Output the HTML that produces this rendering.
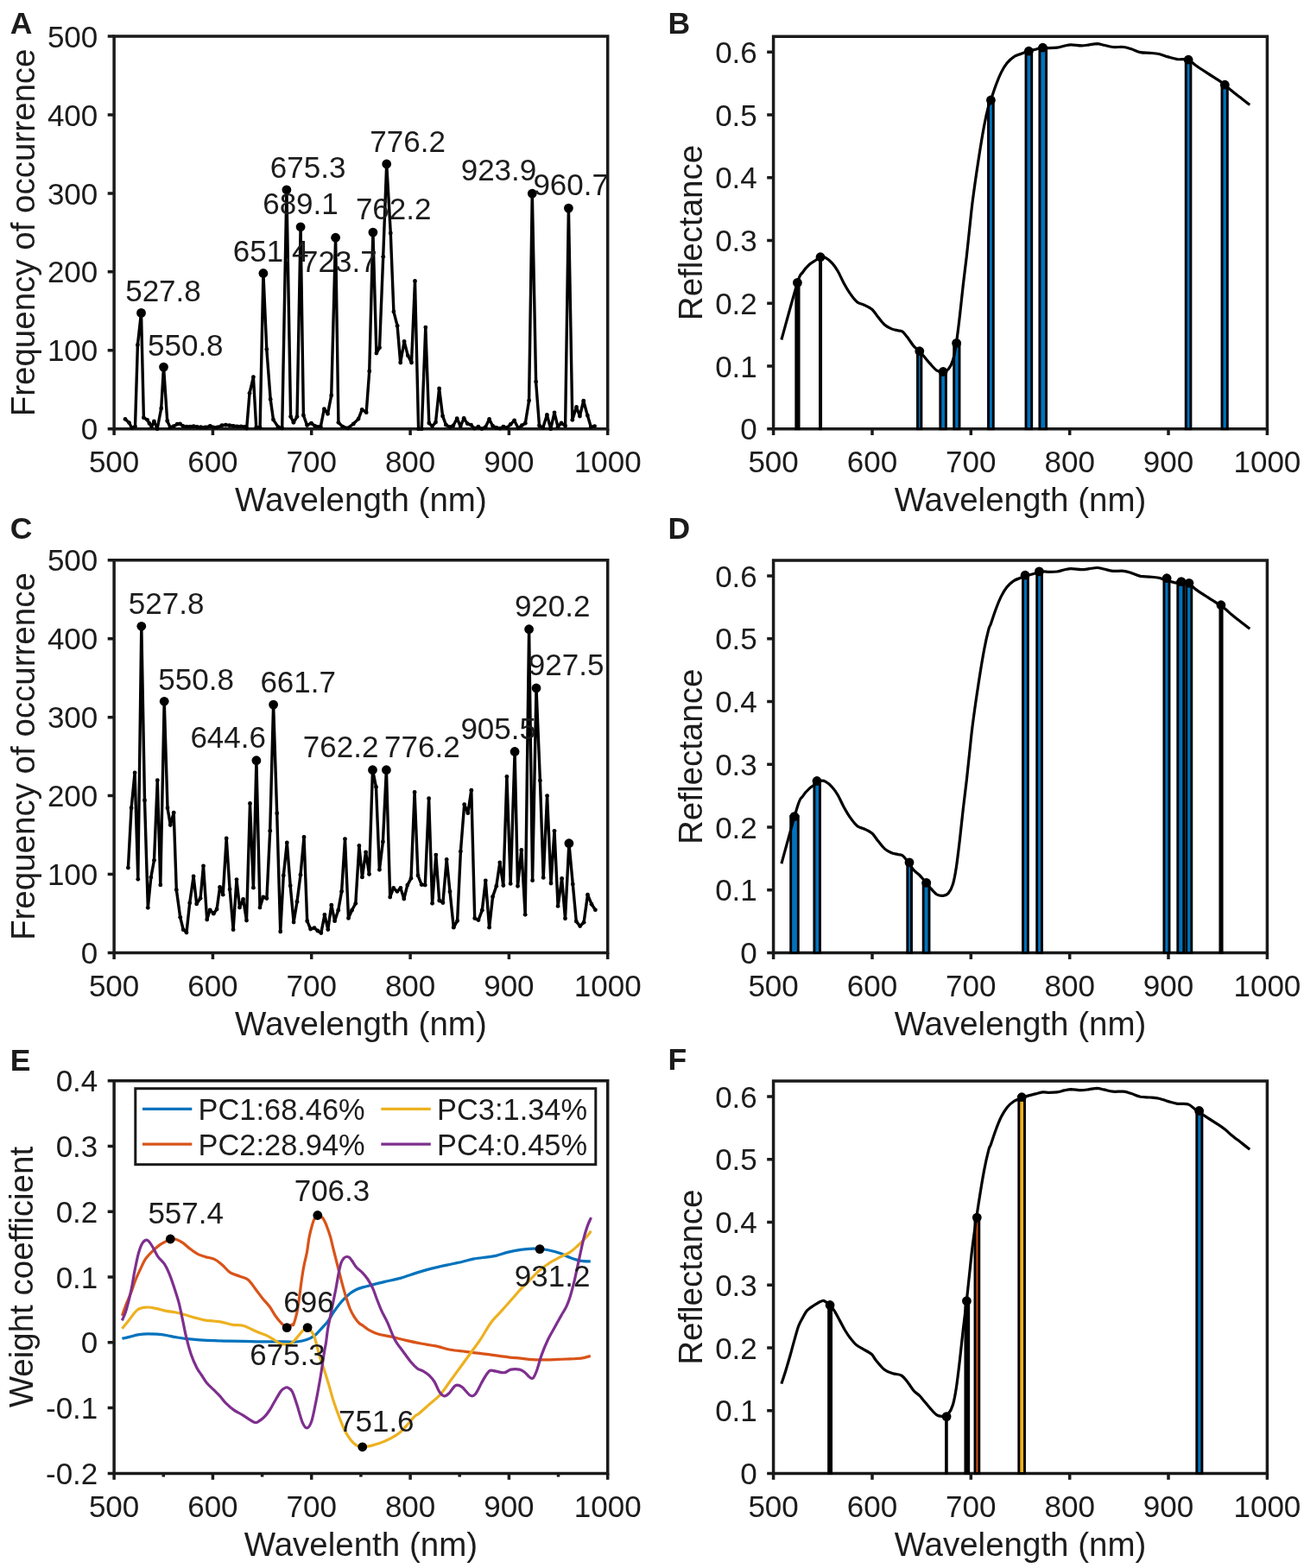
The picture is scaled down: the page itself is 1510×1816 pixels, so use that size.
<!DOCTYPE html>
<html><head><meta charset="utf-8"><title>Figure</title>
<style>
html,body{margin:0;padding:0;background:#fff;}
body{width:1510px;height:1816px;overflow:hidden;}
svg{display:block;}
text{font-family:"Liberation Sans",Arial,sans-serif;fill:#1c1c1c;}
</style></head>
<body>
<svg width="1510" height="1816" viewBox="0 0 1510 1816">
<rect width="1510" height="1816" fill="#fff"/>
<path d="M132.1 42H703.7V496.7H132.1Z" fill="none" stroke="#1a1a1a" stroke-width="3.5" stroke-linejoin="miter"/>
<path d="M132.1 496.7v7.4M246.4 496.7v7.4M360.7 496.7v7.4M475.1 496.7v7.4M589.4 496.7v7.4M703.7 496.7v7.4M132.1 496.7h-7.4M132.1 405.8h-7.4M132.1 314.8h-7.4M132.1 223.9h-7.4M132.1 132.9h-7.4M132.1 42h-7.4" stroke="#1a1a1a" stroke-width="3.5" fill="none"/>
<text x="132.1" y="547.3" text-anchor="middle" font-size="35">500</text>
<text x="246.4" y="547.3" text-anchor="middle" font-size="35">600</text>
<text x="360.7" y="547.3" text-anchor="middle" font-size="35">700</text>
<text x="475.1" y="547.3" text-anchor="middle" font-size="35">800</text>
<text x="589.4" y="547.3" text-anchor="middle" font-size="35">900</text>
<text x="703.7" y="547.3" text-anchor="middle" font-size="35">1000</text>
<text x="113.3" y="509.3" text-anchor="end" font-size="35">0</text>
<text x="113.3" y="418.4" text-anchor="end" font-size="35">100</text>
<text x="113.3" y="327.4" text-anchor="end" font-size="35">200</text>
<text x="113.3" y="236.5" text-anchor="end" font-size="35">300</text>
<text x="113.3" y="145.5" text-anchor="end" font-size="35">400</text>
<text x="113.3" y="54.6" text-anchor="end" font-size="35">500</text>
<text x="417.9" y="592.3" text-anchor="middle" font-size="38.5">Wavelength (nm)</text>
<text transform="translate(39.6 269.4) rotate(-90)" text-anchor="middle" font-size="38.5">Frequency of occurrence</text>
<path d="M895.6 42.3H1467.4V496.7H895.6Z" fill="none" stroke="#1a1a1a" stroke-width="3.5" stroke-linejoin="miter"/>
<path d="M895.6 496.7v7.4M1010 496.7v7.4M1124.3 496.7v7.4M1238.7 496.7v7.4M1353 496.7v7.4M1467.4 496.7v7.4M895.6 496.7h-7.4M895.6 424h-7.4M895.6 351.2h-7.4M895.6 278.5h-7.4M895.6 205.8h-7.4M895.6 133h-7.4M895.6 60.3h-7.4" stroke="#1a1a1a" stroke-width="3.5" fill="none"/>
<text x="895.6" y="547.3" text-anchor="middle" font-size="35">500</text>
<text x="1010" y="547.3" text-anchor="middle" font-size="35">600</text>
<text x="1124.3" y="547.3" text-anchor="middle" font-size="35">700</text>
<text x="1238.7" y="547.3" text-anchor="middle" font-size="35">800</text>
<text x="1353" y="547.3" text-anchor="middle" font-size="35">900</text>
<text x="1467.4" y="547.3" text-anchor="middle" font-size="35">1000</text>
<text x="876.8" y="509.3" text-anchor="end" font-size="35">0</text>
<text x="876.8" y="436.6" text-anchor="end" font-size="35">0.1</text>
<text x="876.8" y="363.8" text-anchor="end" font-size="35">0.2</text>
<text x="876.8" y="291.1" text-anchor="end" font-size="35">0.3</text>
<text x="876.8" y="218.4" text-anchor="end" font-size="35">0.4</text>
<text x="876.8" y="145.6" text-anchor="end" font-size="35">0.5</text>
<text x="876.8" y="72.9" text-anchor="end" font-size="35">0.6</text>
<text x="1181.5" y="592.3" text-anchor="middle" font-size="38.5">Wavelength (nm)</text>
<text transform="translate(812.9 269.5) rotate(-90)" text-anchor="middle" font-size="38.5">Reflectance</text>
<text x="11.8" y="39.2" font-size="35.5" font-weight="bold">A</text>
<text x="773.6" y="39.4" font-size="35.5" font-weight="bold">B</text>
<path d="M132.1 648.8H703.7V1103.5H132.1Z" fill="none" stroke="#1a1a1a" stroke-width="3.5" stroke-linejoin="miter"/>
<path d="M132.1 1103.5v7.4M246.4 1103.5v7.4M360.7 1103.5v7.4M475.1 1103.5v7.4M589.4 1103.5v7.4M703.7 1103.5v7.4M132.1 1103.5h-7.4M132.1 1012.6h-7.4M132.1 921.6h-7.4M132.1 830.7h-7.4M132.1 739.7h-7.4M132.1 648.8h-7.4" stroke="#1a1a1a" stroke-width="3.5" fill="none"/>
<text x="132.1" y="1154.1" text-anchor="middle" font-size="35">500</text>
<text x="246.4" y="1154.1" text-anchor="middle" font-size="35">600</text>
<text x="360.7" y="1154.1" text-anchor="middle" font-size="35">700</text>
<text x="475.1" y="1154.1" text-anchor="middle" font-size="35">800</text>
<text x="589.4" y="1154.1" text-anchor="middle" font-size="35">900</text>
<text x="703.7" y="1154.1" text-anchor="middle" font-size="35">1000</text>
<text x="113.3" y="1116.1" text-anchor="end" font-size="35">0</text>
<text x="113.3" y="1025.2" text-anchor="end" font-size="35">100</text>
<text x="113.3" y="934.2" text-anchor="end" font-size="35">200</text>
<text x="113.3" y="843.3" text-anchor="end" font-size="35">300</text>
<text x="113.3" y="752.3" text-anchor="end" font-size="35">400</text>
<text x="113.3" y="661.4" text-anchor="end" font-size="35">500</text>
<text x="417.9" y="1199.1" text-anchor="middle" font-size="38.5">Wavelength (nm)</text>
<text transform="translate(39.6 876.1) rotate(-90)" text-anchor="middle" font-size="38.5">Frequency of occurrence</text>
<path d="M895.6 649.1H1467.4V1103.5H895.6Z" fill="none" stroke="#1a1a1a" stroke-width="3.5" stroke-linejoin="miter"/>
<path d="M895.6 1103.5v7.4M1010 1103.5v7.4M1124.3 1103.5v7.4M1238.7 1103.5v7.4M1353 1103.5v7.4M1467.4 1103.5v7.4M895.6 1103.5h-7.4M895.6 1030.8h-7.4M895.6 958h-7.4M895.6 885.3h-7.4M895.6 812.6h-7.4M895.6 739.8h-7.4M895.6 667.1h-7.4" stroke="#1a1a1a" stroke-width="3.5" fill="none"/>
<text x="895.6" y="1154.1" text-anchor="middle" font-size="35">500</text>
<text x="1010" y="1154.1" text-anchor="middle" font-size="35">600</text>
<text x="1124.3" y="1154.1" text-anchor="middle" font-size="35">700</text>
<text x="1238.7" y="1154.1" text-anchor="middle" font-size="35">800</text>
<text x="1353" y="1154.1" text-anchor="middle" font-size="35">900</text>
<text x="1467.4" y="1154.1" text-anchor="middle" font-size="35">1000</text>
<text x="876.8" y="1116.1" text-anchor="end" font-size="35">0</text>
<text x="876.8" y="1043.4" text-anchor="end" font-size="35">0.1</text>
<text x="876.8" y="970.6" text-anchor="end" font-size="35">0.2</text>
<text x="876.8" y="897.9" text-anchor="end" font-size="35">0.3</text>
<text x="876.8" y="825.2" text-anchor="end" font-size="35">0.4</text>
<text x="876.8" y="752.4" text-anchor="end" font-size="35">0.5</text>
<text x="876.8" y="679.7" text-anchor="end" font-size="35">0.6</text>
<text x="1181.5" y="1199.1" text-anchor="middle" font-size="38.5">Wavelength (nm)</text>
<text transform="translate(812.9 876.3) rotate(-90)" text-anchor="middle" font-size="38.5">Reflectance</text>
<text x="11.8" y="624" font-size="35.5" font-weight="bold">C</text>
<text x="773.6" y="623.8" font-size="35.5" font-weight="bold">D</text>
<path d="M132.1 1251.7H703.7V1706.4H132.1Z" fill="none" stroke="#1a1a1a" stroke-width="3.5" stroke-linejoin="miter"/>
<path d="M132.1 1706.4v7.4M246.4 1706.4v7.4M360.7 1706.4v7.4M475.1 1706.4v7.4M589.4 1706.4v7.4M703.7 1706.4v7.4M132.1 1706.4h-7.4M132.1 1630.6h-7.4M132.1 1554.8h-7.4M132.1 1479.1h-7.4M132.1 1403.3h-7.4M132.1 1327.5h-7.4M132.1 1251.7h-7.4M189.3 1706.4v4.2M303.6 1706.4v4.2M417.9 1706.4v4.2M532.2 1706.4v4.2M646.5 1706.4v4.2" stroke="#1a1a1a" stroke-width="3.5" fill="none"/>
<text x="132.1" y="1757" text-anchor="middle" font-size="35">500</text>
<text x="246.4" y="1757" text-anchor="middle" font-size="35">600</text>
<text x="360.7" y="1757" text-anchor="middle" font-size="35">700</text>
<text x="475.1" y="1757" text-anchor="middle" font-size="35">800</text>
<text x="589.4" y="1757" text-anchor="middle" font-size="35">900</text>
<text x="703.7" y="1757" text-anchor="middle" font-size="35">1000</text>
<text x="113.3" y="1719" text-anchor="end" font-size="35">-0.2</text>
<text x="113.3" y="1643.2" text-anchor="end" font-size="35">-0.1</text>
<text x="113.3" y="1567.4" text-anchor="end" font-size="35">0</text>
<text x="113.3" y="1491.7" text-anchor="end" font-size="35">0.1</text>
<text x="113.3" y="1415.9" text-anchor="end" font-size="35">0.2</text>
<text x="113.3" y="1340.1" text-anchor="end" font-size="35">0.3</text>
<text x="113.3" y="1264.3" text-anchor="end" font-size="35">0.4</text>
<text x="417.9" y="1802" text-anchor="middle" font-size="38.5">Wavelenth (nm)</text>
<text transform="translate(38.2 1479.1) rotate(-90)" text-anchor="middle" font-size="38.5">Weight coefficient</text>
<path d="M895.6 1252H1467.4V1706.4H895.6Z" fill="none" stroke="#1a1a1a" stroke-width="3.5" stroke-linejoin="miter"/>
<path d="M895.6 1706.4v7.4M1010 1706.4v7.4M1124.3 1706.4v7.4M1238.7 1706.4v7.4M1353 1706.4v7.4M1467.4 1706.4v7.4M895.6 1706.4h-7.4M895.6 1633.7h-7.4M895.6 1560.9h-7.4M895.6 1488.2h-7.4M895.6 1415.5h-7.4M895.6 1342.8h-7.4M895.6 1270h-7.4" stroke="#1a1a1a" stroke-width="3.5" fill="none"/>
<text x="895.6" y="1757" text-anchor="middle" font-size="35">500</text>
<text x="1010" y="1757" text-anchor="middle" font-size="35">600</text>
<text x="1124.3" y="1757" text-anchor="middle" font-size="35">700</text>
<text x="1238.7" y="1757" text-anchor="middle" font-size="35">800</text>
<text x="1353" y="1757" text-anchor="middle" font-size="35">900</text>
<text x="1467.4" y="1757" text-anchor="middle" font-size="35">1000</text>
<text x="876.8" y="1719" text-anchor="end" font-size="35">0</text>
<text x="876.8" y="1646.3" text-anchor="end" font-size="35">0.1</text>
<text x="876.8" y="1573.5" text-anchor="end" font-size="35">0.2</text>
<text x="876.8" y="1500.8" text-anchor="end" font-size="35">0.3</text>
<text x="876.8" y="1428.1" text-anchor="end" font-size="35">0.4</text>
<text x="876.8" y="1355.3" text-anchor="end" font-size="35">0.5</text>
<text x="876.8" y="1282.6" text-anchor="end" font-size="35">0.6</text>
<text x="1181.5" y="1802" text-anchor="middle" font-size="38.5">Wavelength (nm)</text>
<text transform="translate(812.9 1479.2) rotate(-90)" text-anchor="middle" font-size="38.5">Reflectance</text>
<text x="11.8" y="1239.5" font-size="35.5" font-weight="bold">E</text>
<text x="773.6" y="1239.4" font-size="35.5" font-weight="bold">F</text>
<path d="M145 485.4 L149.5 489.6 L152.4 495.3 L156.5 494.1 L159.4 399.5 L163.5 362.4 L166.4 483.8 L170.6 486.3 L173 490.4 L175.5 494.1 L178.4 487.9 L182.1 496.7 L186.7 473 L189.5 425.1 L193.7 487.5 L197 494.9 L201.1 493.7 L205.2 491.2 L208.5 490.8 L211.8 493.3 L216 494.1 L220.1 494.1 L224.2 493.7 L228.4 494.5 L232.5 494.7 L237.4 494.9 L239.4 494.9 L243.3 493.3 L247.1 494.9 L251.5 494.9 L257 492.7 L261.4 492.2 L265.8 492.7 L270.2 493.3 L274.6 493.8 L279.1 493.8 L283.5 494.4 L285.7 496 L289 455.3 L293.4 436.6 L296.7 494.9 L301.1 494.9 L304.9 316.5 L308.8 404.6 L313.2 462.4 L316.5 486.1 L322 494.4 L326.7 495.9 L331.9 219.8 L336.6 482.6 L339.9 489.3 L344 482.6 L348.1 262.8 L351.4 481 L355.6 492.6 L360.5 490.1 L364.7 493.4 L371.3 494.2 L375.4 473.6 L379.5 479.3 L383.7 457.9 L388.6 275.2 L391.9 489.3 L396.9 494.2 L402.7 495.9 L409.3 490.9 L415.1 485.1 L419.2 474.4 L424.2 477.7 L427.7 430 L431.9 269.1 L435.9 409.1 L439.5 402.7 L443.7 297.3 L447.7 190 L452.3 270 L455.9 360.9 L460.1 377.3 L463.7 420 L468.1 395.5 L472.3 411.8 L476.5 420 L480.5 325.5 L484.6 496.7 L488.3 496.7 L492.8 379.1 L496.8 490 L500.5 493.6 L504.5 489.1 L508.6 450 L512.6 481.9 L516.5 492.2 L520.9 494.6 L524.9 493 L529.2 484.7 L533.2 493.8 L537.2 484.3 L541.2 490.6 L545.5 492.2 L549.5 496.2 L553.9 494.2 L557.9 496.6 L562.2 494.6 L566.6 485.5 L570.6 493.4 L575 495.4 L578.9 496.2 L582.9 494.2 L586.9 495.4 L591.2 491.4 L595.6 487 L600 495.8 L604.4 492.6 L608.3 490.2 L612.6 463.9 L616.3 224.1 L620.6 442.1 L624.5 492.9 L628.8 495.3 L633.4 480.4 L637.7 496.7 L642 477.8 L646 494.3 L650 490 L654.6 493.3 L658.4 241.1 L662.8 486.3 L667.5 471.5 L671.4 482 L675.7 464.2 L680.3 481.1 L684.3 494.6 L688.6 493.6" fill="none" stroke="#000" stroke-width="3.4" stroke-linejoin="round"/>
<g fill="#000"><circle cx="145" cy="485.4" r="2.4"/><circle cx="149.5" cy="489.6" r="2.4"/><circle cx="152.4" cy="495.3" r="2.4"/><circle cx="156.5" cy="494.1" r="2.4"/><circle cx="159.4" cy="399.5" r="2.4"/><circle cx="163.5" cy="362.4" r="2.4"/><circle cx="166.4" cy="483.8" r="2.4"/><circle cx="170.6" cy="486.3" r="2.4"/><circle cx="173" cy="490.4" r="2.4"/><circle cx="175.5" cy="494.1" r="2.4"/><circle cx="178.4" cy="487.9" r="2.4"/><circle cx="182.1" cy="496.7" r="2.4"/><circle cx="186.7" cy="473" r="2.4"/><circle cx="189.5" cy="425.1" r="2.4"/><circle cx="193.7" cy="487.5" r="2.4"/><circle cx="197" cy="494.9" r="2.4"/><circle cx="201.1" cy="493.7" r="2.4"/><circle cx="205.2" cy="491.2" r="2.4"/><circle cx="208.5" cy="490.8" r="2.4"/><circle cx="211.8" cy="493.3" r="2.4"/><circle cx="216" cy="494.1" r="2.4"/><circle cx="220.1" cy="494.1" r="2.4"/><circle cx="224.2" cy="493.7" r="2.4"/><circle cx="228.4" cy="494.5" r="2.4"/><circle cx="232.5" cy="494.7" r="2.4"/><circle cx="237.4" cy="494.9" r="2.4"/><circle cx="239.4" cy="494.9" r="2.4"/><circle cx="243.3" cy="493.3" r="2.4"/><circle cx="247.1" cy="494.9" r="2.4"/><circle cx="251.5" cy="494.9" r="2.4"/><circle cx="257" cy="492.7" r="2.4"/><circle cx="261.4" cy="492.2" r="2.4"/><circle cx="265.8" cy="492.7" r="2.4"/><circle cx="270.2" cy="493.3" r="2.4"/><circle cx="274.6" cy="493.8" r="2.4"/><circle cx="279.1" cy="493.8" r="2.4"/><circle cx="283.5" cy="494.4" r="2.4"/><circle cx="285.7" cy="496" r="2.4"/><circle cx="289" cy="455.3" r="2.4"/><circle cx="293.4" cy="436.6" r="2.4"/><circle cx="296.7" cy="494.9" r="2.4"/><circle cx="301.1" cy="494.9" r="2.4"/><circle cx="304.9" cy="316.5" r="2.4"/><circle cx="308.8" cy="404.6" r="2.4"/><circle cx="313.2" cy="462.4" r="2.4"/><circle cx="316.5" cy="486.1" r="2.4"/><circle cx="322" cy="494.4" r="2.4"/><circle cx="326.7" cy="495.9" r="2.4"/><circle cx="331.9" cy="219.8" r="2.4"/><circle cx="336.6" cy="482.6" r="2.4"/><circle cx="339.9" cy="489.3" r="2.4"/><circle cx="344" cy="482.6" r="2.4"/><circle cx="348.1" cy="262.8" r="2.4"/><circle cx="351.4" cy="481" r="2.4"/><circle cx="355.6" cy="492.6" r="2.4"/><circle cx="360.5" cy="490.1" r="2.4"/><circle cx="364.7" cy="493.4" r="2.4"/><circle cx="371.3" cy="494.2" r="2.4"/><circle cx="375.4" cy="473.6" r="2.4"/><circle cx="379.5" cy="479.3" r="2.4"/><circle cx="383.7" cy="457.9" r="2.4"/><circle cx="388.6" cy="275.2" r="2.4"/><circle cx="391.9" cy="489.3" r="2.4"/><circle cx="396.9" cy="494.2" r="2.4"/><circle cx="402.7" cy="495.9" r="2.4"/><circle cx="409.3" cy="490.9" r="2.4"/><circle cx="415.1" cy="485.1" r="2.4"/><circle cx="419.2" cy="474.4" r="2.4"/><circle cx="424.2" cy="477.7" r="2.4"/><circle cx="427.7" cy="430" r="2.4"/><circle cx="431.9" cy="269.1" r="2.4"/><circle cx="435.9" cy="409.1" r="2.4"/><circle cx="439.5" cy="402.7" r="2.4"/><circle cx="443.7" cy="297.3" r="2.4"/><circle cx="447.7" cy="190" r="2.4"/><circle cx="452.3" cy="270" r="2.4"/><circle cx="455.9" cy="360.9" r="2.4"/><circle cx="460.1" cy="377.3" r="2.4"/><circle cx="463.7" cy="420" r="2.4"/><circle cx="468.1" cy="395.5" r="2.4"/><circle cx="472.3" cy="411.8" r="2.4"/><circle cx="476.5" cy="420" r="2.4"/><circle cx="480.5" cy="325.5" r="2.4"/><circle cx="484.6" cy="496.7" r="2.4"/><circle cx="488.3" cy="496.7" r="2.4"/><circle cx="492.8" cy="379.1" r="2.4"/><circle cx="496.8" cy="490" r="2.4"/><circle cx="500.5" cy="493.6" r="2.4"/><circle cx="504.5" cy="489.1" r="2.4"/><circle cx="508.6" cy="450" r="2.4"/><circle cx="512.6" cy="481.9" r="2.4"/><circle cx="516.5" cy="492.2" r="2.4"/><circle cx="520.9" cy="494.6" r="2.4"/><circle cx="524.9" cy="493" r="2.4"/><circle cx="529.2" cy="484.7" r="2.4"/><circle cx="533.2" cy="493.8" r="2.4"/><circle cx="537.2" cy="484.3" r="2.4"/><circle cx="541.2" cy="490.6" r="2.4"/><circle cx="545.5" cy="492.2" r="2.4"/><circle cx="549.5" cy="496.2" r="2.4"/><circle cx="553.9" cy="494.2" r="2.4"/><circle cx="557.9" cy="496.6" r="2.4"/><circle cx="562.2" cy="494.6" r="2.4"/><circle cx="566.6" cy="485.5" r="2.4"/><circle cx="570.6" cy="493.4" r="2.4"/><circle cx="575" cy="495.4" r="2.4"/><circle cx="578.9" cy="496.2" r="2.4"/><circle cx="582.9" cy="494.2" r="2.4"/><circle cx="586.9" cy="495.4" r="2.4"/><circle cx="591.2" cy="491.4" r="2.4"/><circle cx="595.6" cy="487" r="2.4"/><circle cx="600" cy="495.8" r="2.4"/><circle cx="604.4" cy="492.6" r="2.4"/><circle cx="608.3" cy="490.2" r="2.4"/><circle cx="612.6" cy="463.9" r="2.4"/><circle cx="616.3" cy="224.1" r="2.4"/><circle cx="620.6" cy="442.1" r="2.4"/><circle cx="624.5" cy="492.9" r="2.4"/><circle cx="628.8" cy="495.3" r="2.4"/><circle cx="633.4" cy="480.4" r="2.4"/><circle cx="637.7" cy="496.7" r="2.4"/><circle cx="642" cy="477.8" r="2.4"/><circle cx="646" cy="494.3" r="2.4"/><circle cx="650" cy="490" r="2.4"/><circle cx="654.6" cy="493.3" r="2.4"/><circle cx="658.4" cy="241.1" r="2.4"/><circle cx="662.8" cy="486.3" r="2.4"/><circle cx="667.5" cy="471.5" r="2.4"/><circle cx="671.4" cy="482" r="2.4"/><circle cx="675.7" cy="464.2" r="2.4"/><circle cx="680.3" cy="481.1" r="2.4"/><circle cx="684.3" cy="494.6" r="2.4"/><circle cx="688.6" cy="493.6" r="2.4"/></g>
<g fill="#000"><circle cx="163.5" cy="362.4" r="5.4"/><circle cx="189.5" cy="425.1" r="5.4"/><circle cx="304.9" cy="316.5" r="5.4"/><circle cx="331.9" cy="219.8" r="5.4"/><circle cx="348.1" cy="262.8" r="5.4"/><circle cx="388.6" cy="275.2" r="5.4"/><circle cx="431.9" cy="269.1" r="5.4"/><circle cx="447.7" cy="190" r="5.4"/><circle cx="616.3" cy="224.1" r="5.4"/><circle cx="658.4" cy="241.1" r="5.4"/></g>
<text x="145.2" y="349" font-size="35" fill="#000">527.8</text>
<text x="171" y="411.5" font-size="35" fill="#000">550.8</text>
<text x="269.8" y="302.5" font-size="35" fill="#000">651.4</text>
<text x="312.8" y="206.1" font-size="35" fill="#000">675.3</text>
<text x="304.2" y="248.3" font-size="35" fill="#000">689.1</text>
<text x="349.1" y="315.4" font-size="35" fill="#000">723.7</text>
<text x="411.9" y="254.3" font-size="35" fill="#000">762.2</text>
<text x="428.3" y="176" font-size="35" fill="#000">776.2</text>
<text x="533.7" y="209.3" font-size="35" fill="#000">923.9</text>
<text x="617.4" y="226.3" font-size="35" fill="#000">960.7</text>
<path d="M148.4 1005.1 L152.1 935.7 L156.1 894.9 L159.8 1018.3 L163.8 725.3 L167.5 926.9 L171.3 1051.3 L174.8 1016.1 L178.5 996.3 L182.3 903.7 L185.8 1024.9 L190.2 812.3 L194 935.7 L197.3 955.5 L201.2 941.2 L204.3 1030.4 L208.7 1062.3 L212.2 1076.7 L216 1080 L219.7 1045.8 L224.1 1015 L227.7 1046.9 L232.1 1040.3 L235.5 1002.8 L239.7 1065 L243.2 1053.8 L247.3 1058.2 L251.1 1052.9 L254.6 1027.4 L258.2 1036.2 L262.2 971 L266.1 1030 L270.1 1076.7 L274 1018.6 L277.5 1051.1 L281.6 1041.4 L285.5 1066.1 L289.5 930.5 L293.4 1028.2 L296.9 880.7 L301 1051.1 L304.8 1038.8 L308.9 1040.6 L312.7 962.2 L316.6 816.1 L320.7 942 L324.7 1079 L328.3 1013.9 L332.3 976 L336.2 1025.8 L340.1 1068.1 L344 1044.3 L348 1013.2 L352 969.4 L355.7 1066.7 L359.6 1076 L364 1074.7 L367.8 1078 L371.8 1080.6 L375.9 1059.5 L379.8 1076.6 L383.8 1048.2 L387.6 1066.7 L391.7 1054.2 L395.6 1032.4 L399.5 971.6 L403.5 1063.4 L407.5 1054.2 L411.8 1046.3 L415.9 979.5 L419.4 1015.9 L423.6 986.8 L427.5 1012.6 L431.5 891.7 L435.5 911.5 L439.4 1007.3 L443.4 974.9 L447.4 891.7 L451.7 1039 L455.7 1028.4 L459.9 1032.4 L463.9 1028.4 L467.8 1041 L471.8 1025.1 L476 1017.2 L480.1 917.5 L484 1013.9 L488.1 1024.5 L492.3 1025.1 L496.6 924.7 L500.6 1046.3 L504.8 990.1 L508.7 1043 L512.9 1045.6 L517.2 995.4 L521 1032.7 L525.3 1074.2 L529.6 1066.4 L533.4 986.1 L537.7 931.7 L541.8 941.7 L545.8 915.2 L549.7 1063.5 L554 1065.6 L558.3 1054.2 L562.3 1019.8 L566.6 1074.2 L570.6 1038.4 L574.8 1026.2 L578.8 999 L582.8 1025.5 L586.9 899.5 L591.2 1023.4 L596.1 870.5 L599.5 1026.3 L603.8 984.4 L608.2 1059.3 L612.6 728.7 L616.6 1019.7 L621 797 L625.4 903.9 L629.2 1016.4 L633.6 921.6 L638 1023 L642 962.3 L646.1 1049.4 L650.6 1017.5 L654.5 1063.8 L658.9 976.7 L663.3 1024.1 L667.3 1067.1 L671.7 1072.6 L676.1 1068.2 L680.5 1036.2 L685 1047.2 L689.4 1053.8" fill="none" stroke="#000" stroke-width="3.4" stroke-linejoin="round"/>
<g fill="#000"><circle cx="148.4" cy="1005.1" r="2.4"/><circle cx="152.1" cy="935.7" r="2.4"/><circle cx="156.1" cy="894.9" r="2.4"/><circle cx="159.8" cy="1018.3" r="2.4"/><circle cx="163.8" cy="725.3" r="2.4"/><circle cx="167.5" cy="926.9" r="2.4"/><circle cx="171.3" cy="1051.3" r="2.4"/><circle cx="174.8" cy="1016.1" r="2.4"/><circle cx="178.5" cy="996.3" r="2.4"/><circle cx="182.3" cy="903.7" r="2.4"/><circle cx="185.8" cy="1024.9" r="2.4"/><circle cx="190.2" cy="812.3" r="2.4"/><circle cx="194" cy="935.7" r="2.4"/><circle cx="197.3" cy="955.5" r="2.4"/><circle cx="201.2" cy="941.2" r="2.4"/><circle cx="204.3" cy="1030.4" r="2.4"/><circle cx="208.7" cy="1062.3" r="2.4"/><circle cx="212.2" cy="1076.7" r="2.4"/><circle cx="216" cy="1080" r="2.4"/><circle cx="219.7" cy="1045.8" r="2.4"/><circle cx="224.1" cy="1015" r="2.4"/><circle cx="227.7" cy="1046.9" r="2.4"/><circle cx="232.1" cy="1040.3" r="2.4"/><circle cx="235.5" cy="1002.8" r="2.4"/><circle cx="239.7" cy="1065" r="2.4"/><circle cx="243.2" cy="1053.8" r="2.4"/><circle cx="247.3" cy="1058.2" r="2.4"/><circle cx="251.1" cy="1052.9" r="2.4"/><circle cx="254.6" cy="1027.4" r="2.4"/><circle cx="258.2" cy="1036.2" r="2.4"/><circle cx="262.2" cy="971" r="2.4"/><circle cx="266.1" cy="1030" r="2.4"/><circle cx="270.1" cy="1076.7" r="2.4"/><circle cx="274" cy="1018.6" r="2.4"/><circle cx="277.5" cy="1051.1" r="2.4"/><circle cx="281.6" cy="1041.4" r="2.4"/><circle cx="285.5" cy="1066.1" r="2.4"/><circle cx="289.5" cy="930.5" r="2.4"/><circle cx="293.4" cy="1028.2" r="2.4"/><circle cx="296.9" cy="880.7" r="2.4"/><circle cx="301" cy="1051.1" r="2.4"/><circle cx="304.8" cy="1038.8" r="2.4"/><circle cx="308.9" cy="1040.6" r="2.4"/><circle cx="312.7" cy="962.2" r="2.4"/><circle cx="316.6" cy="816.1" r="2.4"/><circle cx="320.7" cy="942" r="2.4"/><circle cx="324.7" cy="1079" r="2.4"/><circle cx="328.3" cy="1013.9" r="2.4"/><circle cx="332.3" cy="976" r="2.4"/><circle cx="336.2" cy="1025.8" r="2.4"/><circle cx="340.1" cy="1068.1" r="2.4"/><circle cx="344" cy="1044.3" r="2.4"/><circle cx="348" cy="1013.2" r="2.4"/><circle cx="352" cy="969.4" r="2.4"/><circle cx="355.7" cy="1066.7" r="2.4"/><circle cx="359.6" cy="1076" r="2.4"/><circle cx="364" cy="1074.7" r="2.4"/><circle cx="367.8" cy="1078" r="2.4"/><circle cx="371.8" cy="1080.6" r="2.4"/><circle cx="375.9" cy="1059.5" r="2.4"/><circle cx="379.8" cy="1076.6" r="2.4"/><circle cx="383.8" cy="1048.2" r="2.4"/><circle cx="387.6" cy="1066.7" r="2.4"/><circle cx="391.7" cy="1054.2" r="2.4"/><circle cx="395.6" cy="1032.4" r="2.4"/><circle cx="399.5" cy="971.6" r="2.4"/><circle cx="403.5" cy="1063.4" r="2.4"/><circle cx="407.5" cy="1054.2" r="2.4"/><circle cx="411.8" cy="1046.3" r="2.4"/><circle cx="415.9" cy="979.5" r="2.4"/><circle cx="419.4" cy="1015.9" r="2.4"/><circle cx="423.6" cy="986.8" r="2.4"/><circle cx="427.5" cy="1012.6" r="2.4"/><circle cx="431.5" cy="891.7" r="2.4"/><circle cx="435.5" cy="911.5" r="2.4"/><circle cx="439.4" cy="1007.3" r="2.4"/><circle cx="443.4" cy="974.9" r="2.4"/><circle cx="447.4" cy="891.7" r="2.4"/><circle cx="451.7" cy="1039" r="2.4"/><circle cx="455.7" cy="1028.4" r="2.4"/><circle cx="459.9" cy="1032.4" r="2.4"/><circle cx="463.9" cy="1028.4" r="2.4"/><circle cx="467.8" cy="1041" r="2.4"/><circle cx="471.8" cy="1025.1" r="2.4"/><circle cx="476" cy="1017.2" r="2.4"/><circle cx="480.1" cy="917.5" r="2.4"/><circle cx="484" cy="1013.9" r="2.4"/><circle cx="488.1" cy="1024.5" r="2.4"/><circle cx="492.3" cy="1025.1" r="2.4"/><circle cx="496.6" cy="924.7" r="2.4"/><circle cx="500.6" cy="1046.3" r="2.4"/><circle cx="504.8" cy="990.1" r="2.4"/><circle cx="508.7" cy="1043" r="2.4"/><circle cx="512.9" cy="1045.6" r="2.4"/><circle cx="517.2" cy="995.4" r="2.4"/><circle cx="521" cy="1032.7" r="2.4"/><circle cx="525.3" cy="1074.2" r="2.4"/><circle cx="529.6" cy="1066.4" r="2.4"/><circle cx="533.4" cy="986.1" r="2.4"/><circle cx="537.7" cy="931.7" r="2.4"/><circle cx="541.8" cy="941.7" r="2.4"/><circle cx="545.8" cy="915.2" r="2.4"/><circle cx="549.7" cy="1063.5" r="2.4"/><circle cx="554" cy="1065.6" r="2.4"/><circle cx="558.3" cy="1054.2" r="2.4"/><circle cx="562.3" cy="1019.8" r="2.4"/><circle cx="566.6" cy="1074.2" r="2.4"/><circle cx="570.6" cy="1038.4" r="2.4"/><circle cx="574.8" cy="1026.2" r="2.4"/><circle cx="578.8" cy="999" r="2.4"/><circle cx="582.8" cy="1025.5" r="2.4"/><circle cx="586.9" cy="899.5" r="2.4"/><circle cx="591.2" cy="1023.4" r="2.4"/><circle cx="596.1" cy="870.5" r="2.4"/><circle cx="599.5" cy="1026.3" r="2.4"/><circle cx="603.8" cy="984.4" r="2.4"/><circle cx="608.2" cy="1059.3" r="2.4"/><circle cx="612.6" cy="728.7" r="2.4"/><circle cx="616.6" cy="1019.7" r="2.4"/><circle cx="621" cy="797" r="2.4"/><circle cx="625.4" cy="903.9" r="2.4"/><circle cx="629.2" cy="1016.4" r="2.4"/><circle cx="633.6" cy="921.6" r="2.4"/><circle cx="638" cy="1023" r="2.4"/><circle cx="642" cy="962.3" r="2.4"/><circle cx="646.1" cy="1049.4" r="2.4"/><circle cx="650.6" cy="1017.5" r="2.4"/><circle cx="654.5" cy="1063.8" r="2.4"/><circle cx="658.9" cy="976.7" r="2.4"/><circle cx="663.3" cy="1024.1" r="2.4"/><circle cx="667.3" cy="1067.1" r="2.4"/><circle cx="671.7" cy="1072.6" r="2.4"/><circle cx="676.1" cy="1068.2" r="2.4"/><circle cx="680.5" cy="1036.2" r="2.4"/><circle cx="685" cy="1047.2" r="2.4"/><circle cx="689.4" cy="1053.8" r="2.4"/></g>
<g fill="#000"><circle cx="163.8" cy="725.3" r="5.4"/><circle cx="190.2" cy="812.3" r="5.4"/><circle cx="296.9" cy="880.7" r="5.4"/><circle cx="316.6" cy="816.1" r="5.4"/><circle cx="431.5" cy="891.7" r="5.4"/><circle cx="447.4" cy="891.7" r="5.4"/><circle cx="596.1" cy="870.5" r="5.4"/><circle cx="612.6" cy="728.7" r="5.4"/><circle cx="621" cy="797" r="5.4"/><circle cx="658.9" cy="976.7" r="5.4"/></g>
<text x="148.8" y="710.8" font-size="35" fill="#000">527.8</text>
<text x="183.3" y="798.6" font-size="35" fill="#000">550.8</text>
<text x="220.4" y="865.9" font-size="35" fill="#000">644.6</text>
<text x="301.4" y="801.5" font-size="35" fill="#000">661.7</text>
<text x="350.8" y="876.6" font-size="35" fill="#000">762.2</text>
<text x="445.1" y="876.6" font-size="35" fill="#000">776.2</text>
<text x="533.4" y="855.8" font-size="35" fill="#000">905.5</text>
<text x="595.9" y="713.7" font-size="35" fill="#000">920.2</text>
<text x="611.8" y="782.3" font-size="35" fill="#000">927.5</text>
<rect x="921.8" y="327.4" width="3.3" height="169.3" fill="#000" stroke="#000" stroke-width="2.9"/>
<rect x="949.5" y="297.7" width="1.1" height="199" fill="#000" stroke="#000" stroke-width="2.9"/>
<rect x="1062.5" y="406.7" width="4.4" height="90" fill="#0072BD" stroke="#000" stroke-width="2.9"/>
<rect x="1088.8" y="430.5" width="6.6" height="66.2" fill="#0072BD" stroke="#000" stroke-width="2.9"/>
<rect x="1104.7" y="397.4" width="6.3" height="99.3" fill="#0072BD" stroke="#000" stroke-width="2.9"/>
<rect x="1144.5" y="116" width="5.8" height="380.7" fill="#0072BD" stroke="#000" stroke-width="2.9"/>
<rect x="1188" y="59.2" width="6.7" height="437.5" fill="#0072BD" stroke="#000" stroke-width="2.9"/>
<rect x="1203.9" y="55.2" width="7.7" height="441.5" fill="#0072BD" stroke="#000" stroke-width="2.9"/>
<rect x="1373.2" y="69.2" width="5.7" height="427.5" fill="#0072BD" stroke="#000" stroke-width="2.9"/>
<rect x="1415" y="98.2" width="6.3" height="398.5" fill="#0072BD" stroke="#000" stroke-width="2.9"/>
<path d="M904.9 393.5 C908 382.5 919.3 340.4 923.4 327.4 C927.5 314.4 927.1 319 929.4 315.5 C931.7 312 934.7 308.7 937.3 306.3 C939.9 303.9 943.1 302.4 945.2 301 C947.3 299.6 948 298.1 949.8 297.7 C951.6 297.2 953.5 297.1 955.8 298.3 C958.1 299.5 961.3 302.2 963.7 304.9 C966.1 307.5 968.1 310.4 970.3 314.2 C972.5 317.9 974.5 323 976.9 327.4 C979.3 331.8 982.2 336.9 984.9 340.6 C987.5 344.4 990.2 347.8 992.8 349.9 C995.4 352 997.8 351.8 1000.7 353.2 C1003.6 354.6 1007.4 356.2 1010 358.5 C1012.6 360.8 1014.2 364 1016.6 367 C1019 370 1021.9 374 1024.5 376.3 C1027.1 378.6 1029.8 379.8 1032.4 380.9 C1035.1 382 1038.2 382.3 1040.4 382.9 C1042.6 383.4 1043.4 382.6 1045.3 384.2 C1047.2 385.8 1049.7 389.3 1051.9 392.2 C1054.1 395.1 1056.3 399 1058.5 401.4 C1060.7 403.8 1062.8 404.7 1064.8 406.7 C1066.8 408.7 1068.4 410.9 1070.4 413.3 C1072.4 415.7 1074.6 418.6 1077 421.2 C1079.4 423.8 1082.4 427.6 1084.9 429.2 C1087.4 430.8 1090 430.7 1092.2 430.5 C1094.4 430.3 1096.2 430 1098.1 427.8 C1100 425.6 1101.9 422.4 1103.4 417.3 C1105 412.2 1106.1 406 1107.4 397.4 C1108.7 388.8 1110.1 376.9 1111.4 365.7 C1112.7 354.5 1114 341.4 1115.3 330 C1116.6 318.6 1118 308 1119.3 297 C1120.5 286 1121.6 274.9 1122.8 264 C1124 253.1 1124.7 244.7 1126.4 231.6 C1128.1 218.5 1130.8 199.7 1133 185.4 C1135.2 171.1 1137.6 156.3 1139.6 145.7 C1141.6 135.1 1143.6 126.9 1144.9 121.9 C1146.2 117 1146 119.7 1147.3 116 C1148.6 112.3 1150.9 104.9 1152.9 99.5 C1154.9 94.1 1157.3 88 1159.5 83.6 C1161.7 79.2 1163.7 76 1166.1 73 C1168.5 70 1171.4 67.5 1174 65.8 C1176.6 64 1179 63.6 1181.9 62.5 C1184.8 61.4 1188.3 60.1 1191.2 59.2 C1194.1 58.3 1196.4 57.9 1199.1 57.2 C1201.8 56.5 1204.6 55.5 1207.3 55.2 C1210 54.9 1212.2 55.6 1215 55.6 C1217.8 55.6 1221.3 55.6 1224.2 55.2 C1227.1 54.8 1229.6 53.8 1232.2 53.2 C1234.8 52.7 1236.8 52 1240.1 51.9 C1243.4 51.8 1248.7 52.9 1252.2 52.9 C1255.7 52.9 1258.2 52.3 1261.3 51.9 C1264.3 51.5 1267.7 50.7 1270.5 50.7 C1273.3 50.8 1275.1 51.6 1278.1 52.2 C1281.1 52.8 1284.9 54.1 1288.7 54.5 C1292.5 54.9 1297.3 54.1 1300.9 54.5 C1304.5 54.9 1306.8 55.8 1310.1 56.8 C1313.4 57.8 1317.2 59.9 1320.7 60.6 C1324.2 61.4 1327.8 61 1331.4 61.3 C1335 61.6 1338.5 61.7 1342.1 62.5 C1345.6 63.3 1349.2 64.9 1352.7 65.9 C1356.2 66.9 1359.5 68 1363.4 68.6 C1367.3 69.1 1372.5 68 1376 69.2 C1379.5 70.4 1381 73.2 1384.7 75.8 C1388.4 78.4 1394.1 82.1 1398.4 84.9 C1402.7 87.7 1407.2 90.4 1410.6 92.6 C1413.9 94.8 1416 96.2 1418.5 98.2 C1421 100.2 1422.8 102.2 1425.8 104.7 C1428.8 107.2 1432.9 110.3 1436.5 113.1 C1440.1 115.9 1445.4 120.1 1447.2 121.5" fill="none" stroke="#000" stroke-width="3.2" stroke-linejoin="round" stroke-linecap="butt"/>
<g fill="#000"><circle cx="923.4" cy="327.4" r="5.4"/><circle cx="950" cy="297.7" r="5.4"/><circle cx="1064.8" cy="406.7" r="5.4"/><circle cx="1092.1" cy="430.5" r="5.4"/><circle cx="1107.6" cy="397.4" r="5.4"/><circle cx="1147.4" cy="116" r="5.4"/><circle cx="1191.3" cy="59.2" r="5.4"/><circle cx="1207.5" cy="55.2" r="5.4"/><circle cx="1376.1" cy="69.2" r="5.4"/><circle cx="1418.3" cy="98.2" r="5.4"/></g>
<rect x="915.7" y="945.6" width="8.6" height="157.9" fill="#0072BD" stroke="#000" stroke-width="2.9"/>
<rect x="942.9" y="904.5" width="6.6" height="199" fill="#0072BD" stroke="#000" stroke-width="2.9"/>
<rect x="1050.8" y="998.9" width="4.7" height="104.6" fill="#0072BD" stroke="#000" stroke-width="2.9"/>
<rect x="1069.2" y="1022.4" width="6.8" height="81.1" fill="#0072BD" stroke="#000" stroke-width="2.9"/>
<rect x="1184.5" y="666.2" width="5.9" height="437.3" fill="#0072BD" stroke="#000" stroke-width="2.9"/>
<rect x="1200.7" y="661.9" width="5.8" height="441.6" fill="#0072BD" stroke="#000" stroke-width="2.9"/>
<rect x="1347.9" y="669.7" width="6.1" height="433.8" fill="#0072BD" stroke="#000" stroke-width="2.9"/>
<rect x="1363.8" y="673.6" width="7" height="429.9" fill="#0072BD" stroke="#000" stroke-width="2.9"/>
<rect x="1373.7" y="675.3" width="6.1" height="428.2" fill="#0072BD" stroke="#000" stroke-width="2.9"/>
<rect x="1412.9" y="700.7" width="2.2" height="402.8" fill="#000" stroke="#000" stroke-width="2.9"/>
<path d="M904.9 1000.3 C908 989.3 919.3 947.2 923.4 934.2 C927.5 921.2 927.1 925.8 929.4 922.3 C931.7 918.8 934.7 915.5 937.3 913.1 C939.9 910.7 943.1 909.2 945.2 907.8 C947.3 906.4 948 905 949.8 904.5 C951.6 904 953.5 903.9 955.8 905.1 C958.1 906.3 961.3 909 963.7 911.7 C966.1 914.3 968.1 917.2 970.3 921 C972.5 924.8 974.5 929.8 976.9 934.2 C979.3 938.6 982.2 943.6 984.9 947.4 C987.5 951.1 990.2 954.6 992.8 956.7 C995.4 958.8 997.8 958.6 1000.7 960 C1003.6 961.4 1007.4 963 1010 965.3 C1012.6 967.6 1014.2 970.8 1016.6 973.8 C1019 976.8 1021.9 980.8 1024.5 983.1 C1027.1 985.4 1029.8 986.6 1032.4 987.7 C1035.1 988.8 1038.2 989.1 1040.4 989.7 C1042.6 990.2 1043.4 989.5 1045.3 991 C1047.2 992.5 1049.7 996.1 1051.9 999 C1054.1 1001.9 1056.3 1005.8 1058.5 1008.2 C1060.7 1010.6 1062.8 1011.5 1064.8 1013.5 C1066.8 1015.5 1068.4 1017.7 1070.4 1020.1 C1072.4 1022.5 1074.6 1025.3 1077 1028 C1079.4 1030.7 1082.4 1034.5 1084.9 1036 C1087.4 1037.5 1090 1037.5 1092.2 1037.3 C1094.4 1037.1 1096.2 1036.8 1098.1 1034.6 C1100 1032.4 1101.9 1029.2 1103.4 1024.1 C1105 1019 1106.1 1012.8 1107.4 1004.2 C1108.7 995.6 1110.1 983.7 1111.4 972.5 C1112.7 961.3 1114 948.2 1115.3 936.8 C1116.6 925.3 1118 914.8 1119.3 903.8 C1120.5 892.8 1121.6 881.7 1122.8 870.8 C1124 859.9 1124.7 851.5 1126.4 838.4 C1128.1 825.3 1130.8 806.5 1133 792.2 C1135.2 777.9 1137.6 763.1 1139.6 752.5 C1141.6 741.9 1143.6 733.6 1144.9 728.7 C1146.2 723.7 1146 726.5 1147.3 722.8 C1148.6 719.1 1150.9 711.7 1152.9 706.3 C1154.9 700.9 1157.3 694.8 1159.5 690.4 C1161.7 686 1163.7 682.8 1166.1 679.8 C1168.5 676.8 1171.4 674.3 1174 672.6 C1176.6 670.8 1179 670.4 1181.9 669.3 C1184.8 668.2 1188.3 666.9 1191.2 666 C1194.1 665.1 1196.4 664.7 1199.1 664 C1201.8 663.3 1204.6 662.3 1207.3 662 C1210 661.7 1212.2 662.4 1215 662.4 C1217.8 662.4 1221.3 662.4 1224.2 662 C1227.1 661.6 1229.6 660.5 1232.2 660 C1234.8 659.5 1236.8 658.8 1240.1 658.7 C1243.4 658.6 1248.7 659.7 1252.2 659.7 C1255.7 659.7 1258.2 659.1 1261.3 658.7 C1264.3 658.3 1267.7 657.5 1270.5 657.5 C1273.3 657.5 1275.1 658.4 1278.1 659 C1281.1 659.6 1284.9 660.9 1288.7 661.3 C1292.5 661.7 1297.3 660.9 1300.9 661.3 C1304.5 661.7 1306.8 662.6 1310.1 663.6 C1313.4 664.6 1317.2 666.6 1320.7 667.4 C1324.2 668.1 1327.8 667.8 1331.4 668.1 C1335 668.4 1338.5 668.5 1342.1 669.3 C1345.6 670.1 1349.2 671.7 1352.7 672.7 C1356.2 673.7 1359.5 674.8 1363.4 675.4 C1367.3 676 1372.5 674.8 1376 676 C1379.5 677.2 1381 680 1384.7 682.6 C1388.4 685.2 1394.1 688.9 1398.4 691.7 C1402.7 694.5 1407.2 697.2 1410.6 699.4 C1413.9 701.6 1416 703 1418.5 705 C1421 707 1422.8 709 1425.8 711.5 C1428.8 714 1432.9 717.1 1436.5 719.9 C1440.1 722.7 1445.4 726.9 1447.2 728.3" fill="none" stroke="#000" stroke-width="3.2" stroke-linejoin="round" stroke-linecap="butt"/>
<g fill="#000"><circle cx="919.9" cy="945.6" r="5.4"/><circle cx="946" cy="904.5" r="5.4"/><circle cx="1053" cy="998.9" r="5.4"/><circle cx="1072.7" cy="1022.4" r="5.4"/><circle cx="1187.1" cy="666.2" r="5.4"/><circle cx="1203.4" cy="661.9" r="5.4"/><circle cx="1351.1" cy="669.7" r="5.4"/><circle cx="1367.9" cy="673.6" r="5.4"/><circle cx="1376.9" cy="675.3" r="5.4"/><circle cx="1413.9" cy="700.7" r="5.4"/></g>
<rect x="959.6" y="1511.5" width="3" height="194.9" fill="#000" stroke="#000" stroke-width="2.9"/>
<rect x="1095.5" y="1640.6" width="0.8" height="65.8" fill="#000" stroke="#000" stroke-width="2.9"/>
<rect x="1117.9" y="1506.7" width="3.8" height="199.7" fill="#000" stroke="#000" stroke-width="2.9"/>
<rect x="1129" y="1410.1" width="4.8" height="296.3" fill="#D95319" stroke="#000" stroke-width="2.9"/>
<rect x="1179.8" y="1270.7" width="6.7" height="435.7" fill="#EDB120" stroke="#000" stroke-width="2.9"/>
<rect x="1385.8" y="1286.5" width="6.1" height="419.9" fill="#0072BD" stroke="#000" stroke-width="2.9"/>
<path d="M904.9 1602.6 C905.7 1600 908.2 1592.6 909.9 1587.2 C911.6 1581.8 913.2 1576.1 914.9 1570.3 C916.5 1564.5 918.1 1558.2 919.8 1552.4 C921.4 1546.6 923.1 1540 924.8 1535.5 C926.5 1531 928.1 1528.6 929.8 1525.6 C931.4 1522.6 932.6 1520 934.7 1517.7 C936.9 1515.4 940.1 1513.5 942.7 1511.7 C945.4 1510 948.6 1508 950.6 1507.2 C952.6 1506.4 952.9 1506 954.6 1506.7 C956.3 1507.5 959 1509.7 961 1511.7 C963 1513.7 964.6 1515.7 966.5 1518.7 C968.4 1521.7 970.5 1526 972.5 1529.6 C974.5 1533.2 976.4 1537.2 978.4 1540.5 C980.4 1543.8 982.2 1546.6 984.4 1549.4 C986.5 1552.2 988.8 1555.2 991.3 1557.4 C993.8 1559.6 996.3 1560.6 999.3 1562.4 C1002.3 1564.2 1006.7 1566.2 1009.2 1568.3 C1011.7 1570.5 1011.7 1572.3 1014.2 1575.3 C1016.7 1578.3 1020.8 1583.6 1024.1 1586.2 C1027.4 1588.8 1030.7 1589.6 1034 1590.7 C1037.3 1591.8 1041 1591.2 1044 1593.1 C1047 1595 1049.5 1598.9 1051.9 1601.9 C1054.3 1604.9 1056.3 1608.7 1058.5 1611.1 C1060.7 1613.5 1062.8 1614.4 1064.8 1616.4 C1066.8 1618.4 1068.4 1620.6 1070.4 1623 C1072.4 1625.4 1074.6 1628.2 1077 1630.9 C1079.4 1633.6 1082.4 1637.4 1084.9 1638.9 C1087.4 1640.5 1090 1640.4 1092.2 1640.2 C1094.4 1640 1096.2 1639.7 1098.1 1637.5 C1100 1635.3 1101.9 1632.1 1103.4 1627 C1105 1621.9 1106.1 1615.7 1107.4 1607.1 C1108.7 1598.5 1110.1 1586.6 1111.4 1575.4 C1112.7 1564.2 1114 1551.2 1115.3 1539.7 C1116.6 1528.2 1118 1517.7 1119.3 1506.7 C1120.5 1495.7 1121.6 1484.6 1122.8 1473.7 C1124 1462.8 1124.7 1454.4 1126.4 1441.3 C1128.1 1428.2 1130.8 1409.4 1133 1395.1 C1135.2 1380.8 1137.6 1366 1139.6 1355.4 C1141.6 1344.8 1143.6 1336.6 1144.9 1331.6 C1146.2 1326.7 1146 1329.4 1147.3 1325.7 C1148.6 1322 1150.9 1314.6 1152.9 1309.2 C1154.9 1303.8 1157.3 1297.7 1159.5 1293.3 C1161.7 1288.9 1163.7 1285.7 1166.1 1282.7 C1168.5 1279.7 1171.4 1277.2 1174 1275.5 C1176.6 1273.8 1179 1273.3 1181.9 1272.2 C1184.8 1271.1 1188.3 1269.8 1191.2 1268.9 C1194.1 1268 1196.4 1267.6 1199.1 1266.9 C1201.8 1266.2 1204.6 1265.2 1207.3 1264.9 C1210 1264.6 1212.2 1265.3 1215 1265.3 C1217.8 1265.3 1221.3 1265.3 1224.2 1264.9 C1227.1 1264.5 1229.6 1263.5 1232.2 1262.9 C1234.8 1262.4 1236.8 1261.7 1240.1 1261.6 C1243.4 1261.6 1248.7 1262.6 1252.2 1262.6 C1255.7 1262.6 1258.2 1262 1261.3 1261.6 C1264.3 1261.2 1267.7 1260.4 1270.5 1260.4 C1273.3 1260.5 1275.1 1261.3 1278.1 1261.9 C1281.1 1262.5 1284.9 1263.8 1288.7 1264.2 C1292.5 1264.6 1297.3 1263.8 1300.9 1264.2 C1304.5 1264.6 1306.8 1265.5 1310.1 1266.5 C1313.4 1267.5 1317.2 1269.5 1320.7 1270.3 C1324.2 1271 1327.8 1270.7 1331.4 1271 C1335 1271.3 1338.5 1271.4 1342.1 1272.2 C1345.6 1273 1349.2 1274.6 1352.7 1275.6 C1356.2 1276.6 1359.5 1277.8 1363.4 1278.3 C1367.3 1278.8 1372.5 1277.7 1376 1278.9 C1379.5 1280.1 1381 1282.9 1384.7 1285.5 C1388.4 1288.1 1394.1 1291.8 1398.4 1294.6 C1402.7 1297.4 1407.2 1300.1 1410.6 1302.3 C1413.9 1304.5 1416 1305.9 1418.5 1307.9 C1421 1309.9 1422.8 1311.9 1425.8 1314.4 C1428.8 1316.9 1432.9 1320 1436.5 1322.8 C1440.1 1325.6 1445.4 1329.8 1447.2 1331.2" fill="none" stroke="#000" stroke-width="3.2" stroke-linejoin="round" stroke-linecap="butt"/>
<g fill="#000"><circle cx="961.1" cy="1511.5" r="5.4"/><circle cx="1096.1" cy="1640.6" r="5.4"/><circle cx="1119.4" cy="1506.7" r="5.4"/><circle cx="1131.3" cy="1410.1" r="5.4"/><circle cx="1183.2" cy="1270.7" r="5.4"/><circle cx="1388.6" cy="1286.5" r="5.4"/></g>
<path d="M141.4 1550.3 C142.9 1549.9 147.7 1548.8 150.7 1548.1 C153.7 1547.4 156.2 1546.5 159.5 1545.9 C162.8 1545.4 166.8 1544.9 170.5 1544.8 C174.2 1544.7 177.9 1544.9 181.6 1545.2 C185.3 1545.5 188.9 1545.9 192.6 1546.5 C196.3 1547.1 199.9 1548.1 203.6 1548.7 C207.3 1549.3 210 1549.8 214.6 1550.3 C219.2 1550.8 225.6 1551.4 231.1 1551.8 C236.6 1552.2 242.1 1552.5 247.6 1552.7 C253.1 1552.9 258.5 1553.1 264.2 1553.2 C269.9 1553.3 275.6 1553.3 282 1553.4 C288.4 1553.5 294.6 1553.8 302.6 1553.9 C310.6 1554 323.9 1553.8 330.1 1553.9 C336.3 1554 336.7 1554.5 340 1554.3 C343.3 1554.1 346.6 1553.8 349.9 1553 C353.2 1552.2 357.1 1550.9 359.8 1549.6 C362.6 1548.3 364.2 1547 366.4 1545 C368.6 1543 370.8 1540.2 373 1537.8 C375.2 1535.4 377.4 1533.5 379.6 1530.5 C381.8 1527.5 384 1523.2 386.2 1519.9 C388.4 1516.6 390.6 1513.5 392.8 1510.7 C395 1508 397.2 1505.6 399.4 1503.4 C401.6 1501.2 403.8 1499.2 406 1497.5 C408.2 1495.8 410.4 1494.6 412.7 1493.5 C415 1492.4 417.4 1491.7 420 1490.9 C422.6 1490.1 424.3 1489.8 428.6 1488.7 C432.9 1487.6 439.8 1485.8 445.8 1484.4 C451.8 1483 458.4 1481.8 464.4 1480.1 C470.4 1478.4 475.9 1476.2 481.6 1474.4 C487.3 1472.6 492.8 1471 498.8 1469.4 C504.8 1467.9 511.4 1466.4 517.4 1465.1 C523.4 1463.8 529.4 1462.7 534.6 1461.5 C539.9 1460.3 543.9 1458.9 548.9 1457.9 C553.9 1457 560.5 1456.4 564.7 1455.8 C568.9 1455.2 570.3 1455.4 574.3 1454.4 C578.3 1453.5 583.8 1451.3 588.6 1450.1 C593.4 1448.9 598.1 1448 602.9 1447.3 C607.7 1446.6 613.5 1446.2 617.2 1446.1 C620.9 1446 622 1446.3 625.1 1446.6 C628.2 1446.9 632 1447.2 635.9 1448 C639.8 1448.8 644.7 1450.2 648.7 1451.6 C652.8 1453 656.4 1455.2 660.2 1456.6 C664 1458 667.7 1459.4 671.6 1460.1 C675.5 1460.8 681.8 1460.8 683.8 1460.9" fill="none" stroke="#0072BD" stroke-width="3.2" stroke-linejoin="round"/>
<path d="M141.4 1523.9 C142.2 1521.6 144.6 1514.6 146.3 1510.1 C148 1505.6 150 1501.7 151.8 1496.9 C153.6 1492.1 155.5 1486.1 157.3 1481.5 C159.1 1476.9 161 1473.2 162.8 1469.4 C164.6 1465.6 166.1 1461.7 168.3 1458.4 C170.5 1455.1 173.3 1452.3 176.1 1449.6 C178.9 1446.8 182 1444 184.9 1441.9 C187.8 1439.8 191.6 1438.1 193.7 1436.9 C195.8 1435.8 195.7 1435.3 197.3 1435 C199 1434.7 201.3 1434.5 203.6 1435.2 C205.9 1435.9 208.6 1437.2 211.3 1439.1 C214.1 1440.9 217.2 1444.1 220.1 1446.3 C223 1448.5 226 1450.8 228.9 1452.3 C231.8 1453.8 234.4 1454.5 237.7 1455.6 C241 1456.6 245.4 1457 248.7 1458.6 C252 1460.2 254.4 1462.5 257.4 1465 C260.4 1467.5 263.2 1471.7 266.6 1473.9 C270 1476.1 274.3 1476.8 277.8 1478.2 C281.3 1479.6 284.4 1479.9 287.4 1482.3 C290.4 1484.7 292.9 1489.1 295.7 1492.7 C298.5 1496.3 301.2 1500.3 304 1503.7 C306.8 1507.1 309.7 1509.9 312.2 1513.3 C314.7 1516.7 316.8 1521.1 319.1 1524.3 C321.4 1527.5 323.8 1530.4 326 1532.6 C328.2 1534.8 330.1 1537.2 332.2 1537.4 C334.3 1537.6 337.1 1534.6 338.4 1534 C339.7 1533.4 339.1 1536.2 340 1533.8 C340.9 1531.3 342.9 1524.5 344 1519.3 C345.1 1514.1 345.7 1508.8 346.6 1502.7 C347.5 1496.6 348.3 1489 349.2 1482.9 C350.1 1476.9 350.8 1471.9 351.9 1466.4 C352.9 1460.9 354.5 1455.5 355.5 1450 C356.5 1444.5 357 1438.4 357.9 1433.7 C358.8 1429 359.7 1425.4 360.7 1421.8 C361.7 1418.2 362.6 1414.3 363.8 1412.2 C365 1410.1 366.3 1409.4 367.8 1409 C369.3 1408.6 371.5 1408.8 373 1409.9 C374.5 1411 375.5 1413.5 376.6 1415.8 C377.7 1418.1 378.6 1420.8 379.7 1423.8 C380.8 1426.8 381.7 1429.3 382.9 1433.7 C384.1 1438.1 385.3 1443.8 386.9 1450 C388.4 1456.2 390.7 1465 392.2 1471 C393.7 1477 394.7 1480.9 396.1 1486.2 C397.5 1491.5 399.2 1497.7 400.8 1502.7 C402.4 1507.7 403.8 1512.1 405.4 1516 C407 1519.9 408.9 1523.2 410.7 1525.9 C412.5 1528.7 414.4 1531 416 1532.5 C417.6 1534 418.1 1533.8 420 1535.1 C421.9 1536.4 424.1 1538.6 427.2 1540.3 C430.3 1542 434.3 1544 438.6 1545.3 C442.9 1546.6 447.7 1546.9 453 1548.1 C458.3 1549.3 464.5 1551.1 470.2 1552.4 C475.9 1553.7 481.6 1554.9 487.3 1556 C493 1557.1 498.8 1557.7 504.5 1558.9 C510.2 1560.1 516 1562.1 521.7 1563.2 C527.4 1564.3 533.6 1564.6 538.9 1565.3 C544.1 1566 548.4 1566.6 553.2 1567.2 C558 1567.8 561.6 1568.1 567.5 1568.9 C573.4 1569.7 582.7 1571.1 588.6 1571.8 C594.5 1572.5 598.1 1572.7 602.9 1573.2 C607.7 1573.7 612.4 1574.3 617.2 1574.6 C622 1574.9 626.8 1574.9 631.6 1574.9 C636.4 1574.9 641.1 1574.6 645.9 1574.4 C650.7 1574.2 655.7 1574.1 660.2 1573.9 C664.7 1573.7 669.2 1573.8 673.1 1573.2 C677 1572.6 682 1570.9 683.8 1570.4" fill="none" stroke="#D95319" stroke-width="3.2" stroke-linejoin="round"/>
<path d="M141.4 1538.8 C142.6 1537.3 145.5 1533.7 148.5 1530 C151.5 1526.3 155.8 1519.4 159.5 1516.7 C163.2 1514 166.8 1514.2 170.5 1514 C174.2 1513.8 177.9 1514.9 181.6 1515.6 C185.3 1516.3 188.9 1517.7 192.6 1518.4 C196.3 1519.1 199.9 1519.3 203.6 1520 C207.3 1520.7 210.9 1521.8 214.6 1522.8 C218.3 1523.8 221.9 1525.1 225.6 1526.1 C229.3 1527.1 232.9 1528.2 236.6 1528.9 C240.3 1529.6 244.3 1529.6 247.6 1530 C250.9 1530.4 252.7 1530.4 256.4 1531.1 C260.1 1531.8 265.4 1533.7 269.7 1534.4 C274 1535.1 277.4 1534.2 282 1535.5 C286.6 1536.8 292.8 1540.4 297.1 1542.2 C301.5 1544 304.7 1544.8 308.1 1546.4 C311.5 1548 314.9 1550.3 317.7 1551.9 C320.4 1553.5 321.6 1555.2 324.6 1556 C327.6 1556.8 332.4 1557.9 335.6 1556.7 C338.8 1555.5 341.4 1551.8 343.9 1549.1 C346.4 1546.4 348.8 1542.8 350.8 1540.8 C352.8 1538.8 354.2 1536.9 356 1537.4 C357.8 1537.9 360.3 1541.4 361.8 1543.6 C363.3 1545.8 363.4 1546.1 364.8 1550.6 C366.2 1555.1 368.3 1564.5 370.1 1570.5 C371.9 1576.5 373.6 1580.9 375.4 1586.4 C377.2 1591.9 378.9 1597.6 380.7 1603.6 C382.5 1609.5 384 1615.9 386 1622.1 C388 1628.3 390.4 1635 392.6 1640.7 C394.8 1646.5 397 1652.2 399.2 1656.6 C401.4 1661 403.6 1664.3 405.8 1667.2 C408 1670.1 410.2 1672.4 412.5 1673.8 C414.8 1675.2 416.8 1675.7 419.7 1675.8 C422.6 1675.9 425.4 1675.5 429.7 1674.4 C434 1673.3 440.1 1671.6 445.6 1669.1 C451.1 1666.6 457.1 1663.9 462.8 1659.2 C468.5 1654.5 476.4 1644.3 480 1640.7 C483.6 1637.1 481.9 1639.8 484.5 1637.6 C487.1 1635.4 491.6 1631.4 495.9 1627.6 C500.2 1623.8 506 1619.5 510.3 1614.7 C514.6 1609.9 517.9 1604.2 521.7 1599 C525.5 1593.8 529.4 1588.5 533.2 1583.2 C537 1578 540.8 1572.8 544.6 1567.5 C548.4 1562.2 552.1 1557.7 556.1 1551.7 C560.1 1545.7 564.4 1537.4 568.6 1531.7 C572.8 1526 577.5 1521.9 581.5 1517.4 C585.5 1512.9 589.3 1508.5 592.9 1504.5 C596.5 1500.5 599.5 1496.7 602.9 1493.1 C606.2 1489.5 609.4 1486.6 613 1483 C616.6 1479.4 620.6 1474.9 624.4 1471.6 C628.2 1468.3 631.8 1465.6 635.9 1463 C640 1460.4 644.7 1458.1 648.7 1455.9 C652.8 1453.8 656.9 1452.2 660.2 1450.1 C663.6 1447.9 665.9 1445.6 668.8 1443 C671.7 1440.4 674.8 1437.3 677.4 1434.4 C680 1431.5 683.3 1427.2 684.5 1425.8" fill="none" stroke="#EDB120" stroke-width="3.2" stroke-linejoin="round"/>
<path d="M141.4 1529.4 C142.2 1527.3 144.6 1522.5 146.3 1516.7 C148 1510.9 150.2 1502.4 151.8 1494.7 C153.5 1487 154.7 1477.8 156.2 1470.5 C157.7 1463.2 159.1 1455.9 160.6 1450.7 C162.1 1445.5 163.3 1442 165 1439.6 C166.7 1437.2 168.7 1435.7 170.5 1436.3 C172.3 1436.9 174.1 1439.9 176.1 1443 C178.1 1446.1 180.3 1451.6 182.7 1455.1 C185.1 1458.6 188.2 1460.6 190.4 1463.9 C192.6 1467.2 194.1 1470.5 195.9 1474.9 C197.7 1479.3 199.6 1484.8 201.4 1490.3 C203.2 1495.8 205.2 1501.7 206.9 1507.9 C208.6 1514.2 209.8 1521 211.3 1527.8 C212.8 1534.6 214 1541.9 215.7 1548.7 C217.3 1555.5 219.2 1562.6 221.2 1568.5 C223.2 1574.4 225.8 1580 227.8 1583.9 C229.8 1587.8 231.1 1589.1 233 1592 C234.9 1594.9 236.9 1598.5 239.3 1601.4 C241.7 1604.4 245 1607.2 247.5 1609.7 C250 1612.2 252.1 1614.1 254.4 1616.6 C256.7 1619.1 258.6 1622 261.3 1624.8 C264.1 1627.5 267.7 1630.8 270.9 1633.1 C274.1 1635.4 276.7 1636.2 280.6 1638.6 C284.6 1641 291.3 1646.1 294.6 1647.3 C297.9 1648.5 298.5 1646.6 300.5 1645.5 C302.5 1644.4 304.6 1642.7 306.5 1640.7 C308.4 1638.7 310.2 1636.2 312 1633.5 C313.8 1630.8 314.9 1628.5 317.1 1624.8 C319.3 1621.1 323 1614.3 325 1611.5 C327 1608.7 327.7 1608.8 329 1608 C330.3 1607.2 331.4 1606.3 333 1606.9 C334.6 1607.5 336.5 1608.3 338.3 1611.5 C340.1 1614.7 341.6 1620.1 343.6 1626.1 C345.6 1632.1 348.2 1642.7 350.2 1647.3 C352.2 1651.9 353.7 1654.1 355.5 1653.9 C357.3 1653.7 359 1651.3 360.8 1646 C362.6 1640.7 364.3 1630.9 366.1 1622.1 C367.9 1613.3 369.8 1602.3 371.4 1593 C372.9 1583.7 374.4 1572.8 375.4 1566.5 C376.4 1560.2 376.8 1559.6 377.5 1555 C378.2 1550.4 378.7 1544.5 379.6 1539.1 C380.5 1533.7 381.8 1528.1 382.9 1522.6 C384 1517.1 385.2 1511 386.2 1506 C387.2 1501 387.9 1498.1 388.9 1492.8 C389.9 1487.5 391.2 1479.2 392.2 1474.3 C393.2 1469.3 393.8 1465.9 394.8 1463.1 C395.8 1460.2 397 1458.5 398.1 1457.2 C399.2 1455.9 400.3 1455.6 401.4 1455.5 C402.5 1455.4 403.5 1455.5 404.7 1456.5 C405.9 1457.5 407.4 1459.9 408.7 1461.8 C410 1463.7 410.8 1465.6 412.7 1467.7 C414.6 1469.8 417.8 1472 420 1474.3 C422.2 1476.6 423.9 1478.6 425.8 1481.5 C427.7 1484.4 429.8 1488 431.5 1491.6 C433.2 1495.2 434.1 1498.7 435.8 1503 C437.5 1507.3 439.4 1512.5 441.5 1517.3 C443.6 1522.1 446.1 1526 448.7 1531.7 C451.3 1537.4 454.2 1546 457.3 1551.7 C460.4 1557.4 464.2 1561.7 467.3 1566 C470.4 1570.3 473.3 1574.4 475.9 1577.5 C478.5 1580.6 480.6 1582.9 483 1584.7 C485.4 1586.5 487.8 1586.8 490.2 1588.2 C492.6 1589.6 495.2 1591.3 497.4 1593.3 C499.5 1595.3 501.2 1597.3 503.1 1600.4 C505 1603.5 506.9 1609.2 508.8 1611.9 C510.7 1614.7 512.7 1616.7 514.6 1616.9 C516.5 1617.1 518.2 1615.3 520.3 1613.3 C522.4 1611.3 525 1605.9 527.4 1604.7 C529.8 1603.5 531.7 1604.2 534.6 1606.1 C537.5 1608 542 1614.8 544.6 1616.2 C547.2 1617.6 548.2 1617.1 550.4 1614.7 C552.5 1612.3 555.6 1605.2 557.5 1601.8 C559.4 1598.3 560.4 1596.4 562 1594 C563.6 1591.6 565.2 1588.5 567.2 1587.5 C569.2 1586.5 571.4 1587.8 574.3 1588.2 C577.1 1588.6 581.4 1590.1 584.3 1589.7 C587.2 1589.3 588.6 1586.7 591.5 1586.1 C594.4 1585.5 598.9 1585.6 601.5 1586.1 C604.1 1586.6 605.3 1587.6 607.2 1589 C609.1 1590.4 611.3 1593.5 613 1594.7 C614.7 1595.9 615.8 1597.3 617.2 1596.1 C618.6 1594.9 619.8 1592 621.5 1587.5 C623.2 1583 625.1 1574.9 627.3 1568.9 C629.4 1562.9 631.8 1557.2 634.4 1551.7 C637 1546.2 640.4 1540.8 643 1536 C645.6 1531.2 648.1 1526.9 650.2 1523.1 C652.4 1519.3 654.2 1516.7 655.9 1513.1 C657.6 1509.5 658.8 1506.2 660.2 1501.7 C661.6 1497.2 662.8 1492.8 664.5 1485.9 C666.2 1479 668.3 1468.7 670.2 1460.1 C672.1 1451.5 674.2 1441.1 675.9 1434.4 C677.6 1427.7 678.8 1424.1 680.2 1420.1 C681.6 1416 683.8 1411.8 684.5 1410.1" fill="none" stroke="#7E2F8E" stroke-width="3.2" stroke-linejoin="round"/>
<g fill="#000"><circle cx="197.3" cy="1435" r="5.4"/><circle cx="367.8" cy="1407.5" r="5.4"/><circle cx="332.2" cy="1537.6" r="5.4"/><circle cx="356.1" cy="1537.6" r="5.4"/><circle cx="419.7" cy="1675.8" r="5.4"/><circle cx="625.1" cy="1446.6" r="5.4"/></g>
<text x="171.4" y="1417.3" font-size="35" fill="#000">557.4</text>
<text x="340.7" y="1390.5" font-size="35" fill="#000">706.3</text>
<text x="328.3" y="1519.7" font-size="35" fill="#000">696</text>
<text x="289.2" y="1580.8" font-size="35" fill="#000">675.3</text>
<text x="392" y="1657.6" font-size="35" fill="#000">751.6</text>
<text x="595.8" y="1490" font-size="35" fill="#000">931.2</text>
<rect x="156.8" y="1260.7" width="533" height="88" fill="#fff" stroke="#1a1a1a" stroke-width="3.0"/>
<path d="M165.0 1284.3H222.3" stroke="#0072BD" stroke-width="3.2"/>
<text x="229.6" y="1297.2" font-size="34.4" fill="#000">PC1:68.46%</text>
<path d="M165.0 1325.1H222.3" stroke="#D95319" stroke-width="3.2"/>
<text x="229.6" y="1338" font-size="34.4" fill="#000">PC2:28.94%</text>
<path d="M441.3 1284.3H498.8" stroke="#EDB120" stroke-width="3.2"/>
<text x="506.1" y="1297.2" font-size="34.4" fill="#000">PC3:1.34%</text>
<path d="M441.3 1325.1H498.8" stroke="#7E2F8E" stroke-width="3.2"/>
<text x="506.1" y="1338" font-size="34.4" fill="#000">PC4:0.45%</text>
</svg>
</body></html>
